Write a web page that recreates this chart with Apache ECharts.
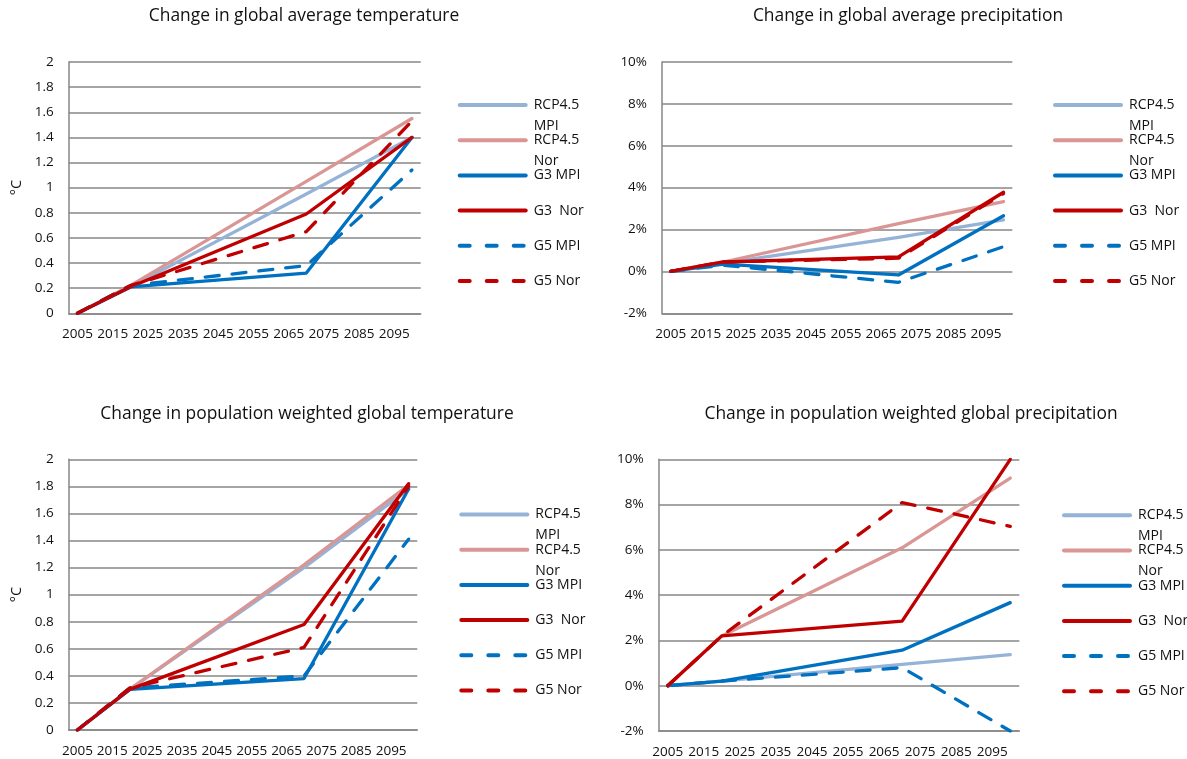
<!DOCTYPE html>
<html>
<head>
<meta charset="utf-8">
<title>Climate change indicators</title>
<script src="https://cdn.jsdelivr.net/npm/echarts@6/dist/echarts.min.js"></script>
<style>
  html, body { margin: 0; padding: 0; background: #fff; }
  #chart { width: 1187px; height: 759px; }
</style>
</head>
<body>
<div id="chart"></div>
<script>
// Five-year categories along the time axis; labels show every other one.
const years = ['2005', '2010', '2015', '2020', '2025', '2030', '2035', '2040', '2045', '2050',
               '2055', '2060', '2065', '2070', '2075', '2080', '2085', '2090', '2095', '2100'];
// Years that carry values in every series.
const dataYears = ['2005', '2020', '2070', '2100'];

const seriesNames = ['RCP4.5 MPI', 'RCP4.5 Nor', 'G3 MPI', 'G3  Nor', 'G5 MPI', 'G5 Nor'];

// Change in global average temperature (°C)
const tavgRcpMpi = [0, 0.21, 0.95, 1.40];
const tavgRcpNor = [0, 0.22, 1.05, 1.55];
const tavgG3Mpi  = [0, 0.21, 0.32, 1.40];
const tavgG3Nor  = [0, 0.21, 0.79, 1.40];
const tavgG5Mpi  = [0, 0.22, 0.38, 1.14];
const tavgG5Nor  = [0, 0.22, 0.65, 1.53];

// Change in global average precipitation (%)
const pavgRcpMpi = [0, 0.40, 1.62, 2.46];
const pavgRcpNor = [0, 0.45, 2.28, 3.33];
const pavgG3Mpi  = [0, 0.35, -0.17, 2.66];
const pavgG3Nor  = [0, 0.45, 0.69, 3.78];
const pavgG5Mpi  = [0, 0.30, -0.52, 1.18];
const pavgG5Nor  = [0, 0.45, 0.63, 3.72];

// Change in population weighted global temperature (°C)
const tpopRcpMpi = [0, 0.30, 1.20, 1.78];
const tpopRcpNor = [0, 0.30, 1.22, 1.81];
const tpopG3Mpi  = [0, 0.30, 0.38, 1.78];
const tpopG3Nor  = [0, 0.30, 0.78, 1.82];
const tpopG5Mpi  = [0, 0.31, 0.40, 1.41];
const tpopG5Nor  = [0, 0.31, 0.61, 1.80];

// Change in population weighted global precipitation (%)
const ppopRcpMpi = [0, 0.20, 0.94, 1.37];
const ppopRcpNor = [0, 2.20, 6.09, 9.17];
const ppopG3Mpi  = [0, 0.20, 1.57, 3.67];
const ppopG3Nor  = [0, 2.20, 2.85, 10.0];
const ppopG5Mpi  = [0, 0.20, 0.80, -2.0];
const ppopG5Nor  = [0, 2.20, 8.09, 7.04];

const tempTicks = { min: 0, max: 2, interval: 0.2 };
const precTicks = { min: -2, max: 10, interval: 2 };

const FONT = 'Open Sans';
const GRID_COLOR = '#878787';

const seriesStyles = [
  { color: '#95B3D7', dashed: false },
  { color: '#D99694', dashed: false },
  { color: '#0070C0', dashed: false },
  { color: '#C00000', dashed: false },
  { color: '#0070C0', dashed: true },
  { color: '#C00000', dashed: true }
];

const panels = [
  {
    title: 'Change in global average temperature', titleX: 304, titleY: 8,
    grid: { left: 68.7, top: 62, width: 352, height: 251.3 },
    ticks: tempTicks, unit: '', axisName: '°C',
    values: [tavgRcpMpi, tavgRcpNor, tavgG3Mpi, tavgG3Nor, tavgG5Mpi, tavgG5Nor],
    legendX: 457.7, legendY: 105
  },
  {
    title: 'Change in global average precipitation', titleX: 908, titleY: 8,
    grid: { left: 662, top: 62, width: 350.3, height: 251.3 },
    ticks: precTicks, unit: '%', axisName: '',
    values: [pavgRcpMpi, pavgRcpNor, pavgG3Mpi, pavgG3Nor, pavgG5Mpi, pavgG5Nor],
    legendX: 1053, legendY: 105
  },
  {
    title: 'Change in population weighted global temperature', titleX: 307, titleY: 406,
    grid: { left: 68.7, top: 459.3, width: 348.6, height: 270.7 },
    ticks: tempTicks, unit: '', axisName: '°C',
    values: [tpopRcpMpi, tpopRcpNor, tpopG3Mpi, tpopG3Nor, tpopG5Mpi, tpopG5Nor],
    legendX: 459.3, legendY: 514.5
  },
  {
    title: 'Change in population weighted global precipitation', titleX: 911, titleY: 406,
    grid: { left: 658.7, top: 459.3, width: 360.6, height: 273 },
    ticks: precTicks, unit: '%', axisName: '',
    values: [ppopRcpMpi, ppopRcpNor, ppopG3Mpi, ppopG3Nor, ppopG5Mpi, ppopG5Nor],
    legendX: 1062, legendY: 515.3
  }
];

// Place each value on its year category; the gaps are bridged by connectNulls.
function onCategories(vals) {
  const out = years.map(() => null);
  dataYears.forEach((y, i) => { out[years.indexOf(y)] = vals[i]; });
  return out;
}

// Legend label: three rows so the first text row sits level with the line sample;
// the long scenario names wrap onto the row below.
function legendLabel(name) {
  if (name.indexOf('RCP') === 0) {
    const parts = name.split(' ');
    return '{t|}\n{t|' + parts[0] + '}\n{t|' + parts.slice(1).join(' ') + '}';
  }
  return '{t|}\n{t|' + name + '}\n{t|}';
}

const option = {
  animation: false,
  backgroundColor: '#ffffff',
  textStyle: { fontFamily: FONT },
  title: [], grid: [], xAxis: [], yAxis: [], series: [], legend: []
};

const LEGEND_STEP = 35.2;
const LINE_H = 21;

panels.forEach((p, pi) => {
  option.title.push({
    text: p.title, left: p.titleX, top: p.titleY, textAlign: 'center', padding: 0,
    textStyle: { fontFamily: FONT, fontSize: 17.4, fontWeight: 'normal', color: '#111' }
  });
  option.grid.push(Object.assign({ containLabel: false }, p.grid));
  option.xAxis.push({
    type: 'category', gridIndex: pi, data: years, boundaryGap: true,
    axisLine: { show: true, onZero: false, lineStyle: { color: GRID_COLOR, width: 1.5 } },
    axisTick: { show: false },
    axisLabel: { interval: 1, margin: 14, fontFamily: FONT, fontSize: 13.5, color: '#111' },
    splitLine: { show: false }
  });
  option.yAxis.push({
    type: 'value', gridIndex: pi,
    min: p.ticks.min, max: p.ticks.max, interval: p.ticks.interval,
    name: p.axisName, nameLocation: 'middle', nameGap: 44,
    nameTextStyle: { fontFamily: FONT, fontSize: 14.5, color: '#111' },
    axisLine: { show: true, lineStyle: { color: GRID_COLOR, width: 1.5 } },
    axisTick: { show: false },
    axisLabel: { margin: 15, fontFamily: FONT, fontSize: 13.5, color: '#111',
                 formatter: v => (Math.round(v * 10) / 10) + p.unit },
    splitLine: { show: true, lineStyle: { color: GRID_COLOR, width: 1.5 } }
  });
  seriesNames.forEach((name, si) => {
    const st = seriesStyles[si];
    option.series.push({
      name: name, type: 'line', xAxisIndex: pi, yAxisIndex: pi,
      data: onCategories(p.values[si]), connectNulls: true,
      symbol: 'none', showSymbol: false,
      lineStyle: { color: st.color, width: 3.3, cap: 'round', join: 'round',
                   type: st.dashed ? [14, 13] : 'solid' },
      itemStyle: { color: st.color },
      emphasis: { disabled: true }
    });
    option.legend.push({
      data: [name], left: p.legendX, top: p.legendY + si * LEGEND_STEP - 1.5 * LINE_H,
      padding: 0, itemWidth: 66, itemHeight: 14, selectedMode: false,
      formatter: legendLabel,
      itemStyle: { opacity: 0, borderWidth: 0 },
      lineStyle: { width: 4, cap: 'round', type: st.dashed ? [10, 17] : 'solid' },
      textStyle: {
        fontFamily: FONT, fontSize: 14, color: '#111', lineHeight: LINE_H,
        rich: { t: { fontFamily: FONT, fontSize: 14, color: '#111', lineHeight: LINE_H, padding: [0, 0, 0, 3] } }
      }
    });
  });
});

const chart = echarts.init(document.getElementById('chart'), null, { renderer: 'canvas' });
chart.setOption(option);
</script>
</body>
</html>
